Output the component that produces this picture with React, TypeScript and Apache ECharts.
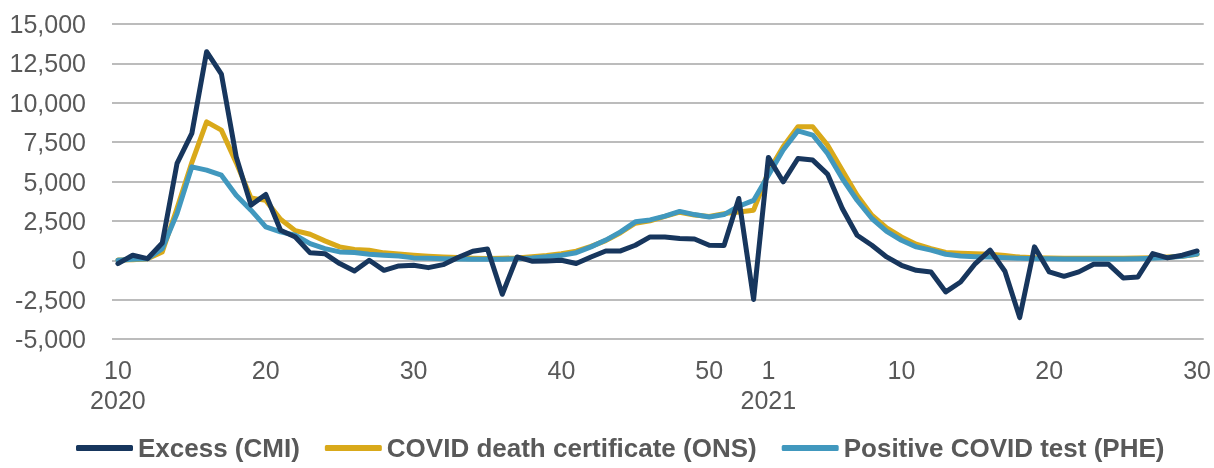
import React, { useEffect, useRef } from "react";
import * as echarts from "echarts";

// Week labels: 2020 weeks 10–53, then 2021 weeks 1–30
const weekLabels = [
  "10","11","12","13","14","15","16","17","18","19",
  "20","21","22","23","24","25","26","27","28","29",
  "30","31","32","33","34","35","36","37","38","39",
  "40","41","42","43","44","45","46","47","48","49",
  "50","51","52","53",
  "1","2","3","4","5","6","7","8","9",
  "10","11","12","13","14","15","16","17","18","19",
  "20","21","22","23","24","25","26","27","28","29","30",
];
const yearStarts = [
  { index: 0, year: "2020" },
  { index: 44, year: "2021" },
];
const xTickIndices = [0, 10, 20, 30, 40, 44, 53, 63, 73];
const yTicks = [-5000, 15000, 2500];

const excessCMI = [
  -210, 320, 100, 1100, 6150, 8050, 13240, 11820, 6570, 3500,
  4180, 1900, 1480, 470, 420, -210, -680, 0, -640, -360,
  -320, -470, -280, 170, 570, 720, -2160, 210, -60, -40,
  0, -210, 210, 590, 590, 950, 1480, 1480, 1380, 1350,
  950, 930, 3920, -2490,
  6530, 4980, 6460, 6360, 5470, 3290, 1590, 950, 210,
  -320, -640, -740, -2010, -1380, -210, 640, -700, -3640, 850,
  -740, -1020, -740, -250, -250, -1120, -1060, 420, 150, 320, 590,
];

const deathCertONS = [
  10, 30, 100, 530, 3300, 6200, 8790, 8260, 6200, 3950,
  3800, 2600, 1880, 1650, 1230, 850, 680, 630, 470, 400,
  320, 250, 200, 170, 130, 110, 120, 150, 220, 300,
  420, 580, 880, 1250, 1750, 2350, 2500, 2780, 3050, 2870,
  2780, 2960, 3070, 3180,
  5610, 7200, 8480, 8480, 7310, 5720, 4130, 2860, 2060,
  1480, 1020, 740, 490, 450, 420, 380, 300, 200, 160,
  140, 130, 120, 120, 120, 120, 140, 160, 200, 260, 380,
];

const positiveTestPHE = [
  0, 60, 100, 740, 2970, 5930, 5720, 5400, 4130, 3180,
  2120, 1800, 1590, 1060, 740, 530, 490, 380, 320, 270,
  150, 120, 100, 80, 70, 60, 70, 100, 150, 230,
  320, 480, 850, 1280, 1800, 2440, 2560, 2800, 3100, 2900,
  2750, 2900, 3430, 3800,
  5400, 7000, 8220, 7950, 6780, 5190, 3810, 2650, 1840,
  1270, 850, 640, 380, 270, 230, 200, 160, 120, 100,
  90, 80, 80, 80, 80, 80, 100, 130, 180, 250, 400,
];

const seriesNames = [
  "Excess (CMI)",
  "COVID death certificate (ONS)",
  "Positive COVID test (PHE)",
];
const seriesColors = ["#17365D", "#D9A91A", "#4198BE"];

const FONT = "'Liberation Sans', Arial, sans-serif";
const TEXT = "#595959";

function toPairs(arr: number[]) {
  return arr.map((v, i) => [i, v]);
}

export default function App() {
  const ref = useRef<HTMLDivElement>(null);
  useEffect(() => {
    if (!ref.current) return;
    const chart = echarts.init(ref.current, undefined, { renderer: "svg" });
    const datasets = [excessCMI, deathCertONS, positiveTestPHE];
    const zs = [4, 2, 3];
    chart.setOption({
      animation: false,
      textStyle: { fontFamily: FONT },
      grid: { left: 112, right: 9, top: 24, bottom: 129, containLabel: false },
      legend: {
        bottom: 2,
        left: 71,
        icon: "roundRect",
        itemWidth: 57,
        itemHeight: 6,
        itemGap: 25,
        textStyle: { fontFamily: FONT, fontSize: 26, fontWeight: "bold", color: TEXT },
        data: seriesNames,
      },
      xAxis: {
        type: "value",
        min: -0.4,
        max: 73.45,
        splitLine: { show: false },
        axisLine: { show: false },
        axisTick: { show: false },
        axisLabel: {
          customValues: xTickIndices,
          fontFamily: FONT,
          fontSize: 25,
          color: TEXT,
          lineHeight: 30,
          margin: 16,
          formatter: (val: number) => {
            const i = Math.round(val);
            const y = yearStarts.find((s) => s.index === i);
            return y ? `${weekLabels[i]}\n${y.year}` : weekLabels[i];
          },
        },
      },
      yAxis: {
        type: "value",
        min: yTicks[0],
        max: yTicks[1],
        interval: yTicks[2],
        axisLine: { show: false },
        axisTick: { show: false },
        splitLine: { lineStyle: { color: "#A6A6A6", width: 1.5 } },
        axisLabel: {
          fontFamily: FONT,
          fontSize: 25,
          color: TEXT,
          margin: 26,
          formatter: (v: number) => v.toLocaleString("en-US"),
        },
      },
      series: seriesNames.map((name, k) => ({
        name,
        type: "line",
        data: toPairs(datasets[k]),
        showSymbol: false,
        symbol: "none",
        z: zs[k],
        color: seriesColors[k],
        lineStyle: { width: 5, color: seriesColors[k], cap: "round", join: "round" },
      })),
    });
    return () => chart.dispose();
  }, []);
  return (
    <div
      ref={ref}
      style={{ position: "fixed", left: 0, top: 0, width: 1214, height: 468 }}
    />
  );
}
